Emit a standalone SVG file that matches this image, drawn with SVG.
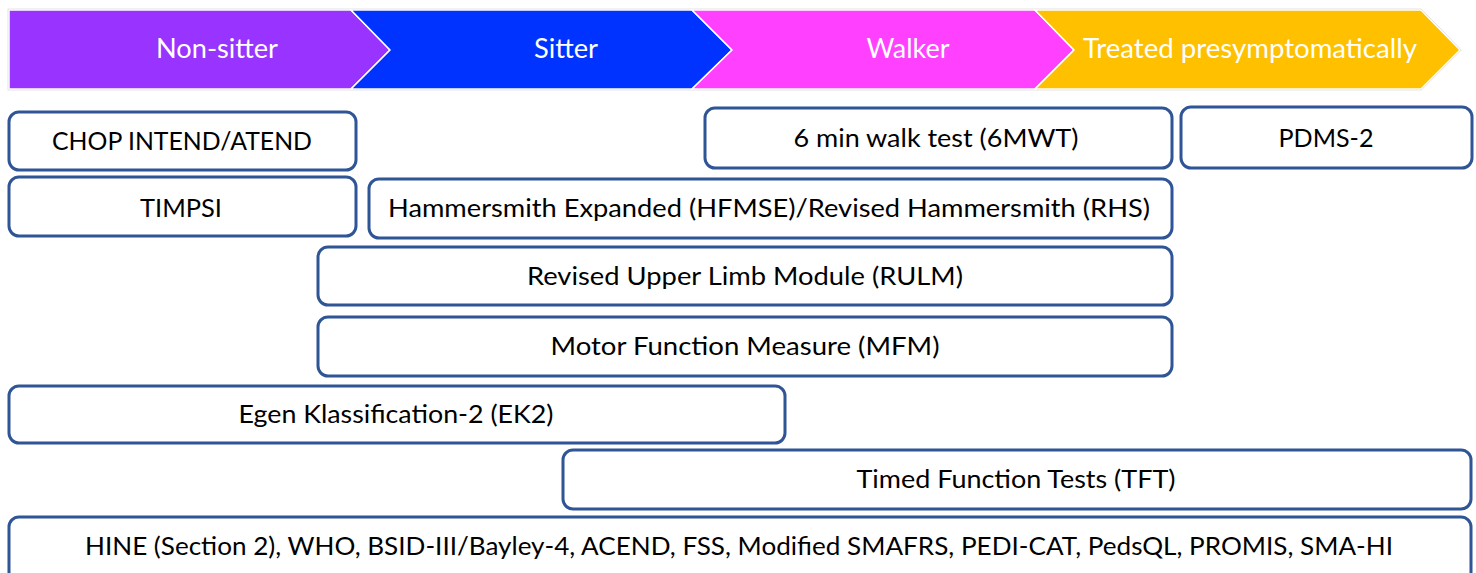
<svg xmlns="http://www.w3.org/2000/svg" width="1476" height="573" viewBox="0 0 1476 573">
  <style>
    .stage { stroke: #ffffff; stroke-width: 1.5; stroke-linejoin: miter; }
    .stage-label { font-family: Lato, "Liberation Sans", sans-serif; font-size: 26px; fill: #ffffff; text-anchor: middle; }
    .box { fill: #ffffff; stroke: #2F5597; stroke-width: 3; }
    .label { font-family: Lato, "Liberation Sans", sans-serif; font-size: 25px; fill: #000000; text-anchor: middle; }
  </style>
  <rect width="1476" height="573" fill="#ffffff"/>

  <!-- Stage banner: four chevrons -->
  <g id="stages">
    <polygon points="8.5,9.5 1421,9.5 1460.5,50 1421,89.5 8.5,89.5" fill="none" stroke="#c8c8c8" stroke-width="1.5"/>
    <g id="stage-non-sitter">
      <polygon class="stage" points="9,10 351,10 390,50 351,89 9,89" fill="#9933FF"/>
      <text class="stage-label" x="217" y="58" textLength="122" lengthAdjust="spacingAndGlyphs">Non-sitter</text>
    </g>
    <g id="stage-sitter">
      <polygon class="stage" points="351,10 692,10 732,50 692,89 351,89 390,50" fill="#0033FF"/>
      <text class="stage-label" x="566" y="58" textLength="64" lengthAdjust="spacingAndGlyphs">Sitter</text>
    </g>
    <g id="stage-walker">
      <polygon class="stage" points="692,10 1035,10 1074,50 1035,89 692,89 732,50" fill="#FF40FF"/>
      <text class="stage-label" x="908" y="58" textLength="83" lengthAdjust="spacingAndGlyphs">Walker</text>
    </g>
    <g id="stage-presymptomatic">
      <polygon class="stage" points="1035,10 1421,10 1460,50 1421,89 1035,89 1074,50" fill="#FFC000"/>
      <text class="stage-label" x="1250" y="58" textLength="334" lengthAdjust="spacingAndGlyphs">Treated presymptomatically</text>
    </g>
  </g>

  <!-- Assessment bars -->
  <g id="chop-intend">
    <rect class="box" x="9" y="112" width="347" height="58" rx="10"/>
    <text class="label" x="182" y="150" textLength="260" lengthAdjust="spacingAndGlyphs">CHOP INTEND/ATEND</text>
  </g>
  <g id="timpsi">
    <rect class="box" x="9" y="177" width="347" height="59" rx="10"/>
    <text class="label" x="181" y="217" textLength="82" lengthAdjust="spacingAndGlyphs">TIMPSI</text>
  </g>
  <g id="six-mwt">
    <rect class="box" x="705" y="108" width="467" height="60" rx="10"/>
    <text class="label" x="936" y="147" textLength="285" lengthAdjust="spacingAndGlyphs">6 min walk test (6MWT)</text>
  </g>
  <g id="pdms2">
    <rect class="box" x="1181" y="107" width="291" height="61" rx="10"/>
    <text class="label" x="1326" y="147" textLength="95" lengthAdjust="spacingAndGlyphs">PDMS-2</text>
  </g>
  <g id="hammersmith">
    <rect class="box" x="369" y="179" width="803" height="59" rx="10"/>
    <text class="label" x="769" y="217" textLength="762" lengthAdjust="spacingAndGlyphs">Hammersmith Expanded (HFMSE)/Revised Hammersmith (RHS)</text>
  </g>
  <g id="rulm">
    <rect class="box" x="318" y="247" width="854" height="58" rx="10"/>
    <text class="label" x="745" y="285" textLength="436" lengthAdjust="spacingAndGlyphs">Revised Upper Limb Module (RULM)</text>
  </g>
  <g id="mfm">
    <rect class="box" x="318" y="317" width="854" height="59" rx="10"/>
    <text class="label" x="745" y="355" textLength="389" lengthAdjust="spacingAndGlyphs">Motor Function Measure (MFM)</text>
  </g>
  <g id="ek2">
    <rect class="box" x="9" y="386" width="776" height="57" rx="10"/>
    <text class="label" x="396" y="423" textLength="315" lengthAdjust="spacingAndGlyphs">Egen Klassification-2 (EK2)</text>
  </g>
  <g id="tft">
    <rect class="box" x="563" y="450" width="908" height="59" rx="10"/>
    <text class="label" x="1016" y="488" textLength="319" lengthAdjust="spacingAndGlyphs">Timed Function Tests (TFT)</text>
  </g>
  <g id="general">
    <rect class="box" x="9" y="517" width="1462" height="70" rx="10"/>
    <text class="label" x="739" y="555" textLength="1308" lengthAdjust="spacingAndGlyphs">HINE (Section 2), WHO, BSID-III/Bayley-4, ACEND, FSS, Modified SMAFRS, PEDI-CAT, PedsQL, PROMIS, SMA-HI</text>
  </g>

  <!-- No connectors in this chart -->
  <g id="connectors"/>
</svg>
